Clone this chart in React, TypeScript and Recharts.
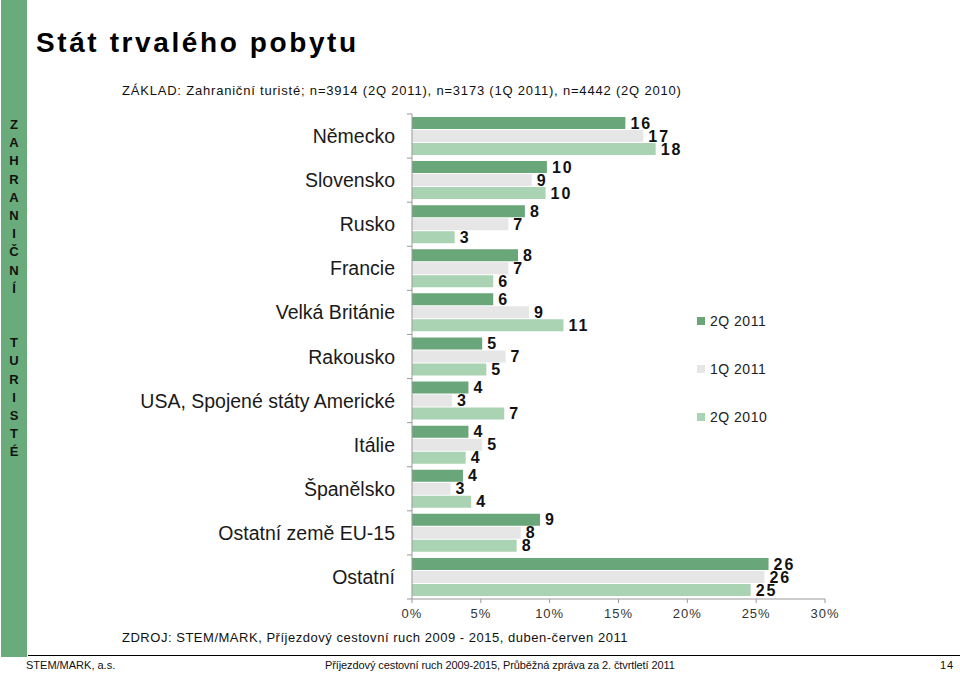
import { BarChart, Bar, XAxis, YAxis, LabelList } from 'recharts';

const countries = [
  'Německo',
  'Slovensko',
  'Rusko',
  'Francie',
  'Velká Británie',
  'Rakousko',
  'USA, Spojené státy Americké',
  'Itálie',
  'Španělsko',
  'Ostatní země EU-15',
  'Ostatní',
];
const q2_2011 = [15.5, 9.8, 8.2, 7.7, 5.9, 5.1, 4.1, 4.1, 3.7, 9.3, 25.9];
const q1_2011 = [16.8, 8.7, 7.0, 7.0, 8.5, 6.8, 2.9, 5.1, 2.8, 7.9, 25.6];
const q2_2010 = [17.7, 9.7, 3.1, 5.9, 11.0, 5.4, 6.7, 3.9, 4.3, 7.6, 24.6];
const xTicks = [0, 5, 10, 15, 20, 25, 30];
const sideLetters = ['Z', 'A', 'H', 'R', 'A', 'N', 'I', 'Č', 'N', 'Í', '', '', 'T', 'U', 'R', 'I', 'S', 'T', 'É'];

const series = [
  { key: 'q2_2011', name: '2Q 2011', color: '#69a679' },
  { key: 'q1_2011', name: '1Q 2011', color: '#e6e6e6' },
  { key: 'q2_2010', name: '2Q 2010', color: '#a9d3b3' },
];

const data = countries.map((c, i) => ({
  name: c,
  q2_2011: q2_2011[i],
  q1_2011: q1_2011[i],
  q2_2010: q2_2010[i],
}));

const font = '"Liberation Sans", Arial, sans-serif';

const CountryTick = (props: any) => {
  const { x, y, payload, index } = props;
  const band = 44.1;
  const ax = x + 17;
  return (
    <g>
      <line x1={ax - 5} x2={ax} y1={y - band / 2} y2={y - band / 2} stroke="#999" />
      {index === countries.length - 1 && (
        <line x1={ax - 5} x2={ax} y1={y + band / 2} y2={y + band / 2} stroke="#999" />
      )}
      <text x={x} y={y} dy={7} textAnchor="end" fontSize={19.5} fill="#1a1a1a" fontFamily={font}>
        {payload.value}
      </text>
    </g>
  );
};

// legend drawn outside the chart so it doesn't eat into the plot area
const LegendBox = () => (
  <div style={{ position: 'absolute', left: 697, top: 297, fontSize: 14, color: '#222' }}>
    {series.map((s) => (
      <div key={s.key} style={{ display: 'flex', alignItems: 'center', height: 48 }}>
        <span style={{ width: 8, height: 8, background: s.color, marginRight: 5 }} />
        <span style={{ letterSpacing: 0.5 }}>{s.name}</span>
      </div>
    ))}
  </div>
);

export default function App() {
  return (
    <div style={{ position: 'absolute', left: 0, top: 0, width: 960, height: 675, background: '#fff', fontFamily: font, overflow: 'hidden' }}>
      <div style={{ position: 'absolute', left: 1, top: 0, width: 26, height: 657, background: '#6aab7c' }} />
      <div style={{ position: 'absolute', left: 1, top: 116, width: 26, textAlign: 'center', fontWeight: 'bold', fontSize: 13, color: '#111' }}>
        {sideLetters.map((l, i) => (
          <div key={i} style={{ height: 18.2, lineHeight: '18.2px' }}>{l || '\u00a0'}</div>
        ))}
      </div>
      <div style={{ position: 'absolute', left: 36, top: 27, fontSize: 28, fontWeight: 'bold', letterSpacing: 2.6, color: '#000' }}>
        Stát trvalého pobytu
      </div>
      <div style={{ position: 'absolute', left: 122, top: 83, fontSize: 13, letterSpacing: 0.8, color: '#111' }}>
        ZÁKLAD: Zahraniční turisté; n=3914 (2Q 2011), n=3173 (1Q 2011), n=4442 (2Q 2010)
      </div>
      <div style={{ position: 'absolute', left: 0, top: 0 }}>
        <BarChart
          width={960}
          height={675}
          data={data}
          layout="vertical"
          margin={{ top: 114, right: 135, bottom: 46, left: 12 }}
          barSize={12}
          barGap={1}
        >
          <XAxis
            type="number"
            domain={[0, 30]}
            ticks={xTicks}
            tickFormatter={(v) => `${v}%`}
            axisLine={{ stroke: '#999' }}
            tickLine={{ stroke: '#999' }}
            tickSize={4}
            tickMargin={6}
            height={30}
            tick={{ fontSize: 13, fill: '#333', fontFamily: font, letterSpacing: 1 }}
          />
          <YAxis
            type="category"
            dataKey="name"
            width={400}
            axisLine={{ stroke: '#999' }}
            tickLine={false}
            tickSize={0}
            tickMargin={17}
            tick={<CountryTick />}
            interval={0}
          />
          {series.map((s) => (
            <Bar key={s.key} dataKey={s.key} name={s.name} fill={s.color} isAnimationActive={false}>
              <LabelList
                dataKey={s.key}
                position="right"
                offset={5}
                formatter={(v: any) => Math.round(Number(v))}
                style={{ fontSize: 16, fontWeight: 'bold', fill: '#111', fontFamily: font, letterSpacing: 2 }}
              />
            </Bar>
          ))}
        </BarChart>
      </div>
      <LegendBox />
      <div style={{ position: 'absolute', left: 122, top: 630, fontSize: 13, letterSpacing: 0.52, color: '#111' }}>
        ZDROJ: STEM/MARK, Příjezdový cestovní ruch 2009 - 2015, duben-červen 2011
      </div>
      <div style={{ position: 'absolute', left: 28, top: 655, width: 932, height: 1, background: '#000' }} />
      <div style={{ position: 'absolute', left: 26, top: 659, fontSize: 11, color: '#111' }}>STEM/MARK, a.s.</div>
      <div style={{ position: 'absolute', left: 325, top: 659, fontSize: 11, letterSpacing: -0.1, color: '#111' }}>
        Příjezdový cestovní ruch 2009-2015, Průběžná zpráva za 2. čtvrtletí 2011
      </div>
      <div style={{ position: 'absolute', left: 940, top: 659, fontSize: 11, letterSpacing: 1, color: '#111' }}>14</div>
    </div>
  );
}
